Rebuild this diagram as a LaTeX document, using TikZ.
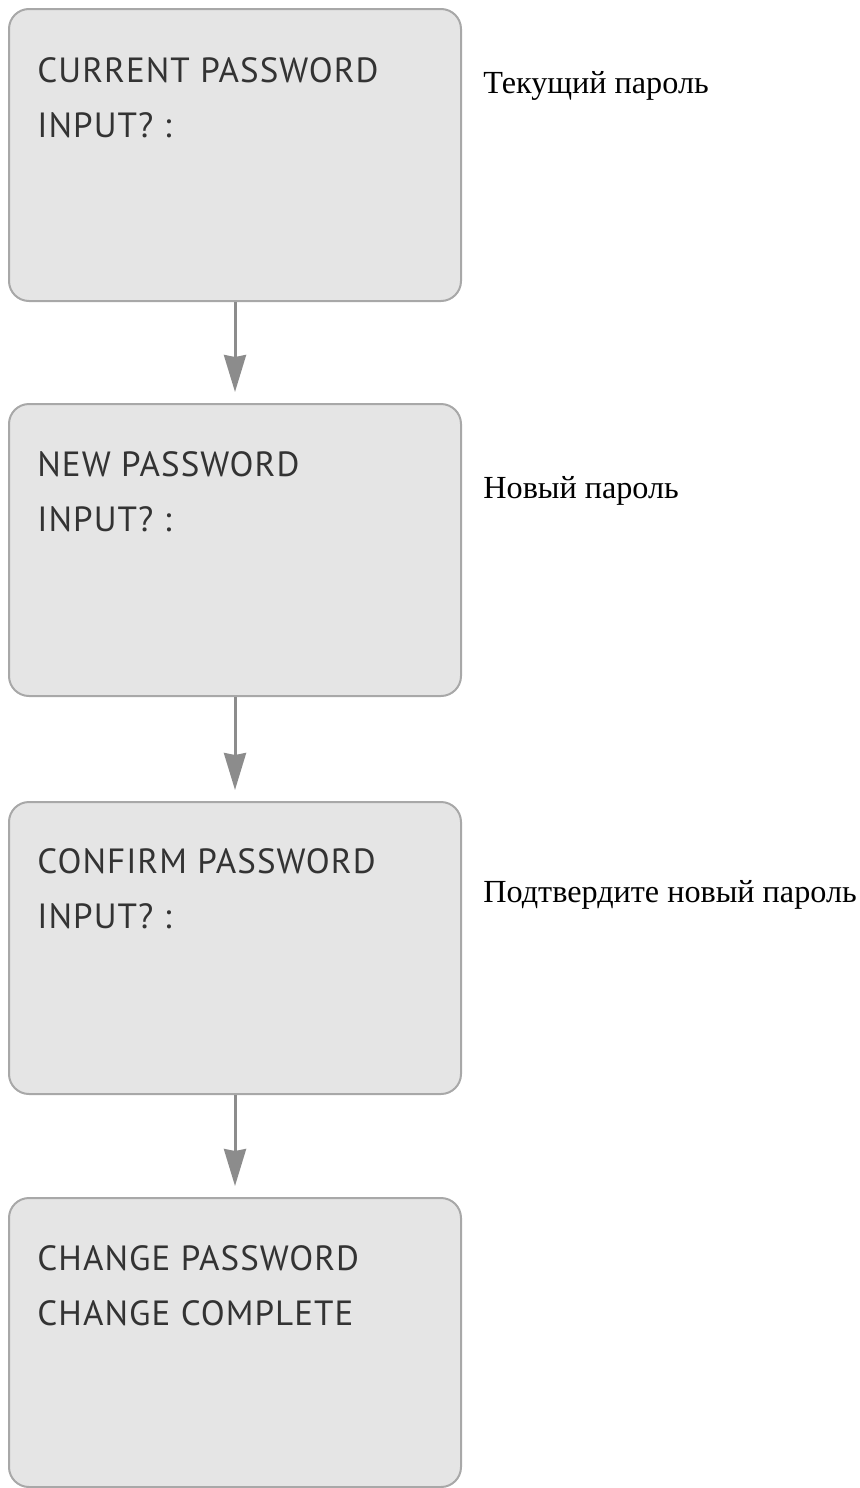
\documentclass[tikz,border=0pt]{standalone}
\usepackage{fontspec}
\setmainfont{Liberation Serif}
\newfontfamily\dinfont[LetterSpace=3]{PT Sans}
\usetikzlibrary{arrows.meta}
\definecolor{panelfill}{HTML}{E5E5E5}
\definecolor{panelline}{HTML}{A8A8A8}
\definecolor{paneltext}{HTML}{333333}
\definecolor{flowgray}{HTML}{8C8C8C}
\begin{document}
\begin{tikzpicture}[x=0.5pt, y=-0.5pt,
    panel/.style={draw=panelline, line width=1pt, fill=panelfill, rounded corners=10pt, minimum width=226pt, minimum height=146pt, inner sep=0pt},
    paneltxt/.style={anchor=north west, inner sep=0pt, align=left, text=paneltext, font=\dinfont\fontsize{17.5}{27.5}\selectfont},
    note/.style={anchor=base west, inner sep=0pt, font=\fontsize{16.1}{19}\selectfont},
    flow/.style={draw=flowgray, line width=1.5pt, -{Stealth[length=18.5pt, width=11pt, inset=1pt]}, shorten >=5.5pt}]

    \useasboundingbox (0,0) rectangle (860,1488);

    % screens
    \node [panel] at (235,155) (cur) {};
    \node [panel] at (235,550) (new) {};
    \node [panel] at (235,948) (conf) {};
    \node [panel, minimum height=144.5pt] at (235,1342.5) (done) {};

    \node [paneltxt] at (37,57) (curtxt) {CURRENT PASSWORD\\INPUT? :};
    \node [paneltxt] at (37,451) (newtxt) {NEW PASSWORD\\INPUT? :};
    \node [paneltxt] at (37,848) (conftxt) {CONFIRM PASSWORD\\INPUT? :};
    \node [paneltxt] at (37,1245) (donetxt) {CHANGE PASSWORD\\CHANGE COMPLETE};

    % notes
    \node [note] at (483,93) (curnote) {Текущий пароль};
    \node [note] at (483,498) (newnote) {Новый пароль};
    \node [note] at (483,902) (confnote) {Подтвердите новый пароль};

    \path [flow] (cur) -- (new);
    \path [flow] (new) -- (conf);
    \path [flow] (conf) -- (done);

\end{tikzpicture}
\end{document}
